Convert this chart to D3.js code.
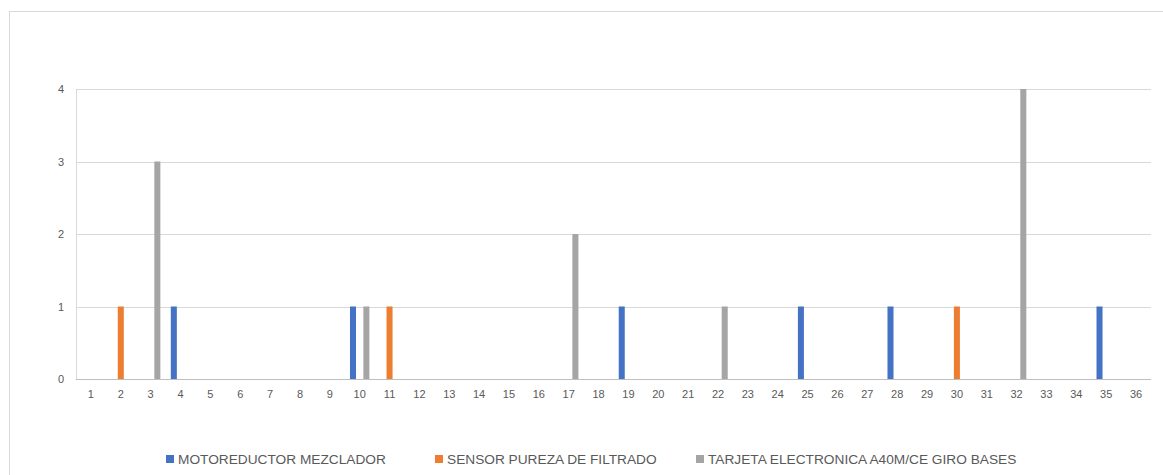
<!DOCTYPE html>
<html>
<head>
<meta charset="utf-8">
<script src="https://cdn.jsdelivr.net/npm/d3@7"></script>
<style>
  html, body { margin: 0; padding: 0; background: #ffffff; }
  svg { display: block; font-family: "Liberation Sans", Arial, sans-serif; }
</style>
</head>
<body>
<svg id="chart" width="1163" height="475"></svg>
<script>
// Categories 1..36
const categories = ["1","2","3","4","5","6","7","8","9","10","11","12","13","14","15","16","17","18",
  "19","20","21","22","23","24","25","26","27","28","29","30","31","32","33","34","35","36"];

// Series names
const seriesNames = ["MOTOREDUCTOR MEZCLADOR", "SENSOR PUREZA DE FILTRADO", "TARJETA ELECTRONICA A40M/CE GIRO BASES"];

// Series values per category (1..36)
const motoreductor = [0,0,0,1,0,0,0,0,0,1,0,0,0,0,0,0,0,0,1,0,0,0,0,0,1,0,0,1,0,0,0,0,0,0,1,0];
const sensor       = [0,1,0,0,0,0,0,0,0,0,1,0,0,0,0,0,0,0,0,0,0,0,0,0,0,0,0,0,0,1,0,0,0,0,0,0];
const tarjeta      = [0,0,3,0,0,0,0,0,0,1,0,0,0,0,0,0,2,0,0,0,0,1,0,0,0,0,0,0,0,0,0,4,0,0,0,0];

const yTicks = [0, 1, 2, 3, 4];
const colors = ["#4472c4", "#ed7d31", "#a5a5a5"];

const seriesValues = [motoreductor, sensor, tarjeta];

const svg = d3.select("#chart");

// Chart frame
svg.append("rect")
  .attr("x", 9.5).attr("y", 11.5)
  .attr("width", 1200).attr("height", 500)
  .attr("fill", "#ffffff")
  .attr("stroke", "#d9d9d9").attr("stroke-width", 1);

const plot = { left: 76, right: 1151, top: 89, bottom: 379 };

const x = d3.scaleBand()
  .domain(categories)
  .range([plot.left, plot.right])
  .paddingInner(0)
  .paddingOuter(0);

const xSub = d3.scaleBand()
  .domain(seriesNames)
  .range([0, x.bandwidth()])
  .paddingInner(0.1)
  .paddingOuter(0.78);

const y = d3.scaleLinear()
  .domain([0, 4])
  .range([plot.bottom, plot.top]);

// Horizontal gridlines
svg.append("g")
  .selectAll("line")
  .data(yTicks.filter(d => d > 0))
  .join("line")
  .attr("x1", plot.left).attr("x2", plot.right)
  .attr("y1", d => Math.round(y(d)) + 0.5).attr("y2", d => Math.round(y(d)) + 0.5)
  .attr("stroke", "#d9d9d9").attr("stroke-width", 1);

// Vertical axis line
svg.append("line")
  .attr("x1", plot.left + 0.5).attr("x2", plot.left + 0.5)
  .attr("y1", plot.top).attr("y2", plot.bottom)
  .attr("stroke", "#d9d9d9").attr("stroke-width", 1);

// Bars
const barData = [];
seriesValues.forEach((vals, si) => {
  vals.forEach((v, ci) => {
    if (v > 0) barData.push({ cat: categories[ci], series: seriesNames[si], value: v, si });
  });
});

svg.append("g")
  .selectAll("rect")
  .data(barData)
  .join("rect")
  .attr("x", d => x(d.cat) + xSub(d.series))
  .attr("width", xSub.bandwidth())
  .attr("y", d => y(d.value))
  .attr("height", d => y(0) - y(d.value))
  .attr("fill", d => colors[d.si]);

// Category axis line
svg.append("line")
  .attr("x1", plot.left).attr("x2", plot.right)
  .attr("y1", plot.bottom + 0.5).attr("y2", plot.bottom + 0.5)
  .attr("stroke", "#bfbfbf").attr("stroke-width", 1);

// Y axis labels
const yAxis = d3.axisLeft(y).tickValues(yTicks).tickSize(0).tickPadding(12).tickFormat(d3.format("d"));
const gy = svg.append("g").attr("transform", `translate(${plot.left},0)`).call(yAxis);
gy.select(".domain").remove();
gy.selectAll("text").attr("fill", "#595959").style("font-size", "11px")
  .style("font-family", "'Liberation Sans', Arial, sans-serif");

// X axis labels
const xAxis = d3.axisBottom(x).tickSize(0).tickPadding(11);
const gx = svg.append("g").attr("transform", `translate(0,${plot.bottom})`).call(xAxis);
gx.select(".domain").remove();
gx.selectAll("text").attr("fill", "#595959").style("font-size", "11px")
  .style("font-family", "'Liberation Sans', Arial, sans-serif");

// Legend
const legendX = [166, 435, 696];
const legend = svg.append("g");
seriesNames.forEach((name, i) => {
  legend.append("rect")
    .attr("x", legendX[i]).attr("y", 455)
    .attr("width", 8).attr("height", 8)
    .attr("fill", colors[i]);
  legend.append("text")
    .attr("x", legendX[i] + 12).attr("y", 464)
    .attr("fill", "#595959")
    .style("font-size", "13.7px")
    .text(name);
});
</script>
</body>
</html>
